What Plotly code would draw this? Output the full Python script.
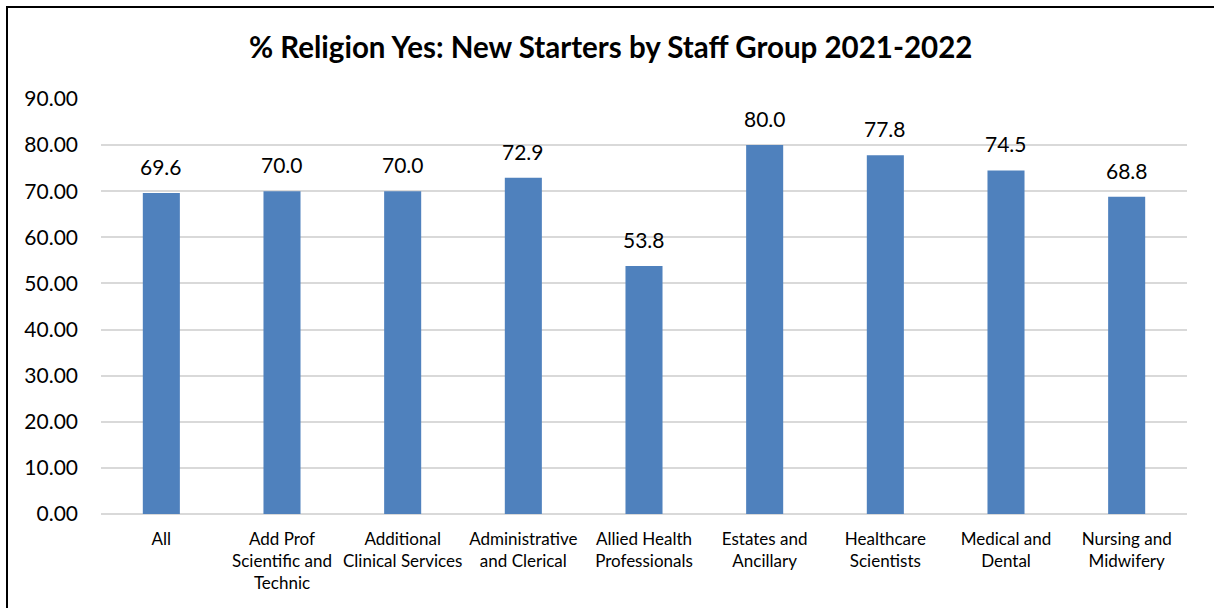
import plotly.graph_objects as go

# Staff groups (x-axis categories, line breaks as shown under each bar)
categories = [
    "All",
    "Add Prof<br>Scientific and<br>Technic",
    "Additional<br>Clinical Services",
    "Administrative<br>and Clerical",
    "Allied Health<br>Professionals",
    "Estates and<br>Ancillary",
    "Healthcare<br>Scientists",
    "Medical and<br>Dental",
    "Nursing and<br>Midwifery",
]

# % of new starters answering "Yes" to religion
pct_yes = [69.6, 70.0, 70.0, 72.9, 53.8, 80.0, 77.8, 74.5, 68.8]

y_ticks = [0, 10, 20, 30, 40, 50, 60, 70, 80, 90]

BAR_COLOR = "#4F81BD"
GRID_COLOR = "#D9D9D9"
FONT = "Lato"

W, H = 1214, 608
ML, MR, MT, MB = 101, 27, 99, 94
plot_w = W - ML - MR
plot_h = H - MT - MB


def px_x(px):
    return (px - ML) / plot_w


def px_y(py):
    return (H - MB - py) / plot_h


fig = go.Figure(
    go.Bar(
        x=categories,
        y=pct_yes,
        marker=dict(color=BAR_COLOR, line=dict(width=0)),
        hoverinfo="x+y",
    )
)

# value labels above each bar
for cat, val in zip(categories, pct_yes):
    fig.add_annotation(
        x=cat,
        y=val,
        text=f"{val:.1f}",
        showarrow=False,
        yanchor="bottom",
        yshift=12,
        font=dict(family=FONT, size=21, color="#000000"),
    )

# frame lines along the left and top edges
fig.add_shape(type="line", xref="paper", yref="paper",
              x0=px_x(7), x1=px_x(7), y0=px_y(7), y1=px_y(612),
              line=dict(color="#000000", width=2))
fig.add_shape(type="line", xref="paper", yref="paper",
              x0=px_x(6), x1=px_x(1220), y0=px_y(7), y1=px_y(7),
              line=dict(color="#000000", width=2))

fig.update_layout(
    width=W,
    height=H,
    margin=dict(l=ML, r=MR, t=MT, b=MB),
    paper_bgcolor="#FFFFFF",
    plot_bgcolor="#FFFFFF",
    bargap=0.693,
    showlegend=False,
    title=dict(
        text="<b>% Religion Yes: New Starters by Staff Group 2021-2022</b>",
        x=0.503,
        xanchor="center",
        y=1 - 48 / H,
        yanchor="middle",
        font=dict(family=FONT, size=29.5, color="#000000"),
    ),
    font=dict(family=FONT, color="#000000"),
)

fig.update_xaxes(
    type="category",
    showgrid=False,
    showline=False,
    ticks="",
    ticklabelstandoff=13,
    tickfont=dict(family=FONT, size=17, color="#000000"),
)

fig.update_yaxes(
    range=[0, 90],
    tickvals=y_ticks,
    tickformat=".2f",
    showgrid=True,
    gridcolor=GRID_COLOR,
    gridwidth=1.5,
    zeroline=True,
    zerolinecolor=GRID_COLOR,
    zerolinewidth=1.5,
    showline=False,
    ticks="",
    ticklabelstandoff=22,
    tickfont=dict(family=FONT, size=21, color="#000000"),
)

fig.write_html("out.html")
